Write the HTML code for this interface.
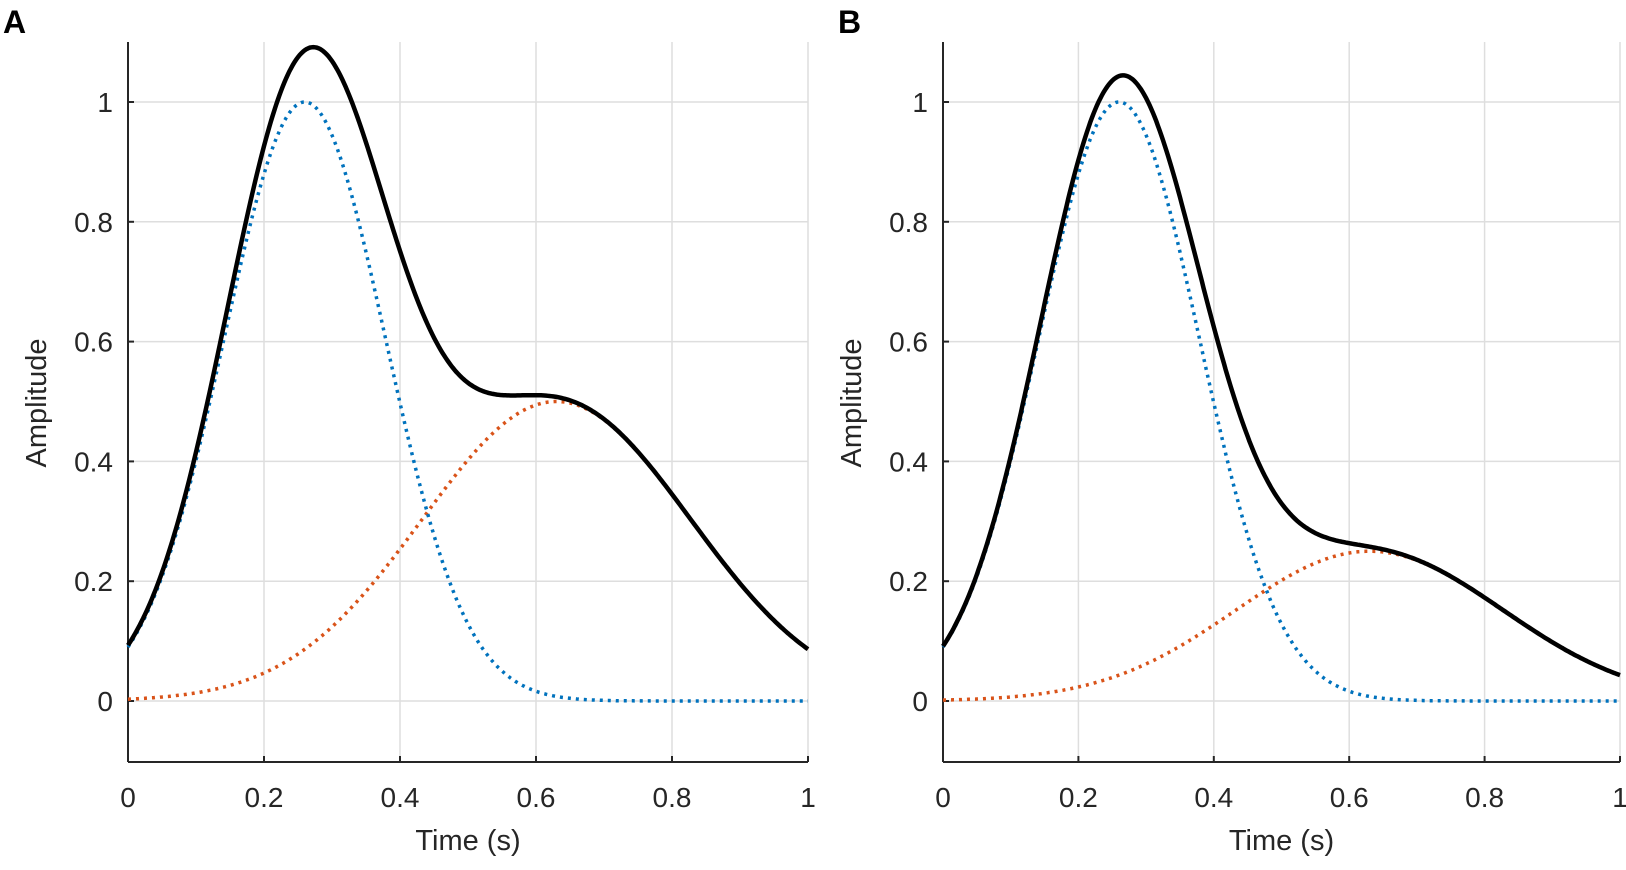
<!DOCTYPE html>
<html><head><meta charset="utf-8"><style>
html,body{margin:0;padding:0;background:#fff;}
svg text{font-family:"Liberation Sans",Arial,sans-serif;fill:#262626;}
</style></head><body>
<svg id="s" width="1626" height="865" xmlns="http://www.w3.org/2000/svg"></svg>
<script>
const svg=document.getElementById('s');
let out='';
function panel(x0,x1,letter,lx,redA){
  const y0=701, ys=599, top=42, bot=762;
  const X=t=>x0+t*(x1-x0), Y=v=>y0-v*ys;
  for(let i=1;i<=5;i++){out+=`<line x1="${X(i/5)}" y1="${top}" x2="${X(i/5)}" y2="${bot}" stroke="#dedede" stroke-width="1.5"/>`;}
  for(let i=0;i<6;i++){const y=Y(i/5);out+=`<line x1="${x0}" y1="${y}" x2="${x1}" y2="${y}" stroke="#dedede" stroke-width="1.5"/>`;}
  out+=`<line x1="${x0}" y1="${top}" x2="${x0}" y2="${bot}" stroke="#262626" stroke-width="2"/>`;
  out+=`<line x1="${x0}" y1="${bot}" x2="${x1}" y2="${bot}" stroke="#262626" stroke-width="2"/>`;
  for(let i=0;i<6;i++){const y=Y(i/5);out+=`<line x1="${x0}" y1="${y}" x2="${x0+6}" y2="${y}" stroke="#262626" stroke-width="2"/>`;
    out+=`<text x="${x0-15}" y="${y+10}" font-size="28" text-anchor="end">${i==0?'0':i==5?'1':(i/5).toFixed(1)}</text>`;}
  for(let i=0;i<6;i++){const x=X(i/5);out+=`<line x1="${x}" y1="${bot}" x2="${x}" y2="${bot-6}" stroke="#262626" stroke-width="2"/>`;
    out+=`<text x="${x}" y="807" font-size="28" text-anchor="middle">${i==0?'0':i==5?'1':(i/5).toFixed(1)}</text>`;}
  out+=`<text x="${(x0+x1)/2}" y="850" font-size="29" text-anchor="middle">Time (s)</text>`;
  out+=`<text transform="translate(${x0-82},403) rotate(-90)" font-size="29" text-anchor="middle">Amplitude</text>`;
  out+=`<text x="${lx}" y="33" font-size="32" font-weight="bold" style="fill:#000">${letter}</text>`;
  const b=t=>Math.exp(-Math.pow(t-0.26,2)/(2*0.01404));
  const r=t=>redA*Math.exp(-Math.pow(t-0.63,2)/0.078);
  let pb='',pr='',pk='';
  for(let i=0;i<=400;i++){const t=i/400;const c=i?'L':'M';
    pb+=c+X(t).toFixed(1)+','+Y(b(t)).toFixed(1);
    pr+=c+X(t).toFixed(1)+','+Y(r(t)).toFixed(1);
    pk+=c+X(t).toFixed(1)+','+Y(b(t)+r(t)).toFixed(1);}
  out+=`<path d="${pr}" fill="none" stroke="#d95319" stroke-width="3.5" stroke-dasharray="3 5"/>`;
  out+=`<path d="${pb}" fill="none" stroke="#0072bd" stroke-width="3.5" stroke-dasharray="3 5"/>`;
  out+=`<path d="${pk}" fill="none" stroke="#000" stroke-width="4.5"/>`;
}
panel(128,808,'A',3,0.5);
panel(943,1620,'B',838,0.25);
svg.innerHTML=out;
</script>
</body></html>
